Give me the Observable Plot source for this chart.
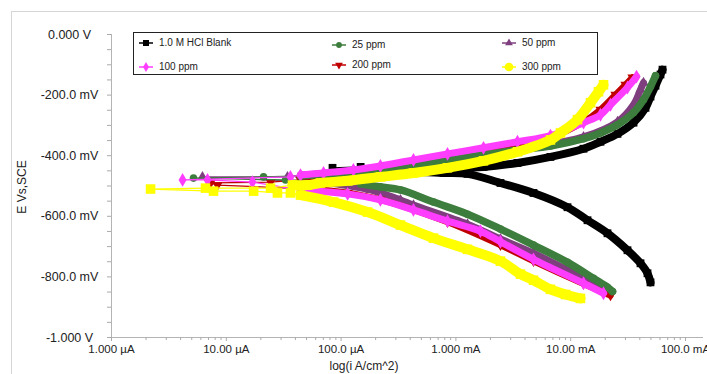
<!DOCTYPE html>
<html><head><meta charset="utf-8">
<script src="https://cdn.jsdelivr.net/npm/d3@7"></script>
<script src="https://cdn.jsdelivr.net/npm/@observablehq/plot@0.6"></script>
<style>
body{margin:0;background:#fff;font-family:"Liberation Sans",Arial,sans-serif;color:#222;}
#wrap{position:relative;width:707px;height:374px;overflow:hidden;background:#fff;}
#frame{position:absolute;left:11px;top:11px;width:720px;height:400px;border:1px solid #d6d6d6;}
#chart{position:absolute;left:0;top:0;}
#legend{position:absolute;left:133px;top:32px;width:463px;height:41px;border:1.5px solid #222;background:#fff;}
.lg{position:absolute;font-size:10px;line-height:12px;white-space:nowrap;display:flex;align-items:center;}
.lg svg{margin-right:5px;}
#ytitle{position:absolute;left:22px;top:187px;transform:translate(-50%,-50%) rotate(-90deg);font-size:12px;white-space:nowrap;}
#xtitle{position:absolute;left:364px;top:366px;transform:translate(-50%,-50%);font-size:12px;white-space:nowrap;}
</style></head><body>
<div id="wrap"><div id="frame"></div><div id="chart"></div><div id="legend"></div>
<div id="ytitle">E Vs,SCE</div><div id="xtitle">log(i A/cm^2)</div></div>
<script>
// ---- axis ticks (current in µA/cm², potential in mV) ----
const xTickValues = [1, 10, 100, 1000, 10000, 100000];
const xTickLabels = ["1.000 µA", "10.00 µA", "100.0 µA", "1.000 mA", "10.00 mA", "100.0 mA"];
const yTickValues = [0, -200, -400, -600, -800, -1000];
const yTickLabels = ["0.000 V", "-200.0 mV", "-400.0 mV", "-600.0 mV", "-800.0 mV", "-1.000 V"];
const yMinorTicks = [-50,-100,-150,-250,-300,-350,-450,-500,-550,-650,-700,-750,-850,-900,-950];

// ---- series meta ----
const seriesNames = ["1.0 M HCl Blank", "25 ppm", "50 ppm", "100 ppm", "200 ppm", "300 ppm"];
const seriesColors = ["#000000", "#3d7d3d", "#7f3f7f", "#ff3dff", "#c00000", "#ffff00"];

// ---- 1.0 M HCl Blank ----
const blankCathI = [49560, 46670, 40550, 31240, 20920, 14010, 9380, 4743, 2446, 1262, 780, 492];
const blankCathE = [-818, -788, -755, -712, -656, -613, -570, -523, -490, -460, -457, -454];
const blankMidI = [84.2, 148];
const blankMidE = [-440, -437];
const blankAnodI = [329, 898, 1740, 3440, 6668, 12930, 18180, 25570, 35240, 44840, 49560, 54800, 60560, 63060];
const blankAnodE = [-440, -440, -437, -424, -404, -377, -354, -328, -291, -242, -205, -169, -132, -116];

// ---- 25 ppm ----
const p25CathI = [23130, 20920, 15800, 9380, 4743, 2446, 1262, 638, 329, 220, 148];
const p25CathE = [-848, -834, -805, -752, -695, -642, -593, -553, -513, -503, -493];
const p25MidI = [32.8, 5.18, 21.1];
const p25MidE = [-480, -474, -470];
const p25AnodI = [44.3, 85.9, 220, 427, 898, 1740, 3440, 6668, 12930, 18180, 25570, 35240, 43070, 49560, 54800];
const p25AnodE = [-467, -460, -447, -434, -414, -397, -381, -368, -344, -325, -298, -258, -215, -172, -136];

// ---- 50 ppm ----
const p50CathI = [19310, 12930, 4743, 2446, 1262, 427, 329, 180, 80.9];
const p50CathE = [-841, -805, -722, -675, -626, -563, -546, -513, -490];
const p50MidI = [6.2, 34.1];
const p50MidE = [-470, -470];
const p50AnodI = [44.3, 220, 898, 3440, 12930, 25570, 35240, 40550, 43070];
const p50AnodE = [-464, -444, -417, -381, -338, -288, -232, -182, -159];

// ---- 100 ppm ----
const p100CathI = [19310, 12930, 4743, 2446, 1638, 845, 427, 220, 114, 44.3];
const p100CathE = [-854, -821, -742, -684, -649, -616, -579, -546, -526, -513];
const p100MidI = [16.9, 6.86, 4.16, 36.2];
const p100MidE = [-487, -480, -480, -470];
const p100AnodI = [44.3, 70.3, 128, 220, 427, 845, 1740, 3440, 6668, 12930, 18180, 22220, 31240, 37430];
const p100AnodE = [-464, -457, -447, -434, -414, -394, -374, -354, -334, -291, -265, -232, -175, -139];

// ---- 200 ppm ----
const p200CathI = [22220, 12930, 4743, 2446, 845, 220, 114, 54.1];
const p200CathE = [-861, -823, -748, -695, -619, -545, -523, -510];
const p200MidI = [8.38, 7.29, 24.3];
const p200MidE = [-497, -490, -487];
const p200AnodI = [44.3, 220, 898, 3440, 6668, 12930, 18180, 24560, 30020, 34540];
const p200AnodE = [-480, -450, -421, -364, -341, -288, -248, -199, -166, -142];

// ---- 300 ppm ----
const p300CathI = [12170, 9010, 6668, 4743, 3654, 2446, 1262, 638, 329, 170, 85.9, 44.3];
const p300CathE = [-871, -858, -841, -811, -791, -748, -709, -672, -629, -586, -553, -530];
const p300MidI = [36.2, 27.9, 17.3, 7.74, 2.19, 6.59, 24.3];
const p300MidE = [-523, -523, -517, -517, -510, -507, -507];
const p300AnodI = [37.7, 51.0, 66.2, 114, 220, 427, 845, 1740, 3440, 6668, 8150, 11460, 14880, 17470, 19310];
const p300AnodE = [-497, -497, -490, -483, -470, -457, -440, -417, -387, -348, -325, -281, -225, -189, -166];

// ---- build tables ----
const pts = (I, E) => I.map((v, k) => ({i: v, e: E[k]}));
const series = [
  {cath: pts(blankCathI, blankCathE), mid: pts(blankMidI, blankMidE), anod: pts(blankAnodI, blankAnodE)},
  {cath: pts(p25CathI, p25CathE), mid: pts(p25MidI, p25MidE), anod: pts(p25AnodI, p25AnodE)},
  {cath: pts(p50CathI, p50CathE), mid: pts(p50MidI, p50MidE), anod: pts(p50AnodI, p50AnodE)},
  {cath: pts(p100CathI, p100CathE), mid: pts(p100MidI, p100MidE), anod: pts(p100AnodI, p100AnodE)},
  {cath: pts(p200CathI, p200CathE), mid: pts(p200MidI, p200MidE), anod: pts(p200AnodI, p200AnodE)},
  {cath: pts(p300CathI, p300CathE), mid: pts(p300MidI, p300MidE), anod: pts(p300AnodI, p300AnodE)}
];
const style = [
  {symbol: "square", r: 4.4, w: 8, rotate: 0},
  {symbol: "circle", r: 3.8, w: 7.5, rotate: 0},
  {symbol: "triangle", r: 3.8, w: 7, rotate: 0},
  {symbol: "diamond", r: 4.2, w: 7, rotate: 0},
  {symbol: "triangle", r: 3.8, w: 6.5, rotate: 180},
  {symbol: "square", r: 5.4, w: 10, rotate: 0}
];
const drawOrder = [0, 2, 4, 1, 3, 5];

const xMinor = [];
for (const d of [1, 10, 100, 1000, 10000]) for (let m = 2; m <= 9; m++) xMinor.push(d * m);

const dataMarks = [];
for (const s of drawOrder) {
  const c = seriesColors[s], st = style[s], sr = series[s];
  const all = [...sr.cath, ...sr.mid, ...sr.anod];
  dataMarks.push(Plot.line(all, {x: "i", y: "e", stroke: c, strokeWidth: 1.3}));
  dataMarks.push(Plot.line(sr.cath, {x: "i", y: "e", stroke: c, strokeWidth: st.w, strokeLinecap: "round", strokeLinejoin: "round", curve: "catmull-rom"}));
  dataMarks.push(Plot.line(sr.anod, {x: "i", y: "e", stroke: c, strokeWidth: st.w, strokeLinecap: "round", strokeLinejoin: "round", curve: "catmull-rom"}));
  dataMarks.push(Plot.dot(all, {x: "i", y: "e", symbol: () => st.symbol, r: st.r, fill: c, stroke: "none", rotate: st.rotate}));
}

const chart = Plot.plot({
  width: 707, height: 374,
  marginLeft: 111, marginRight: 4, marginTop: 34, marginBottom: 37,
  style: {fontFamily: "'Liberation Sans', Arial, sans-serif", background: "transparent", overflow: "visible", color: "#222"},
  x: {type: "log", domain: [1, 143500]},
  y: {domain: [-1000, 0]},
  symbol: {type: "identity"},
  marks: [
    Plot.ruleX([1], {stroke: "#b4b4b4"}),
    Plot.ruleY([-1000], {stroke: "#b4b4b4"}),
    Plot.axisY({ticks: yMinorTicks, tickSize: 4, tickFormat: () => "", stroke: "#aaa", label: null}),
    Plot.axisY({ticks: yTickValues, tickSize: 4, tickFormat: d => yTickLabels[yTickValues.indexOf(d)], stroke: "#aaa", fill: "#222", textAnchor: "middle", tickPadding: 38, fontSize: 12.5, label: null}),
    Plot.axisX({ticks: xMinor, tickSize: 3, tickFormat: () => "", stroke: "#aaa", label: null}),
    Plot.axisX({ticks: xTickValues, tickSize: 4, tickFormat: d => xTickLabels[xTickValues.indexOf(d)], stroke: "#aaa", fill: "#222", tickPadding: 3, fontSize: 11.5, label: null}),
    ...dataMarks
  ]
});
document.getElementById("chart").appendChild(chart);

// ---- legend ----
const legendPos = [[4, 10], [197, 12], [367, 10], [4, 34], [197, 32], [367, 34]];
const d3Sym = [d3.symbolSquare, d3.symbolCircle, d3.symbolTriangle, d3.symbolDiamond, d3.symbolTriangle, d3.symbolCircle];
const legSize = [36, 26, 26, 30, 26, 60];
const legend = document.getElementById("legend");
seriesNames.forEach((name, k) => {
  const el = document.createElement("div");
  el.className = "lg";
  el.style.left = legendPos[k][0] + "px";
  el.style.top = (legendPos[k][1] - 6) + "px";
  const svg = d3.create("svg").attr("width", 16).attr("height", 12);
  svg.append("line").attr("x1", 1).attr("x2", 15).attr("y1", 6).attr("y2", 6).attr("stroke", seriesColors[k]).attr("stroke-width", 1.5);
  svg.append("path").attr("d", d3.symbol(d3Sym[k], legSize[k])()).attr("fill", seriesColors[k])
    .attr("transform", `translate(8,6) rotate(${k === 4 ? 180 : 0})`);
  el.appendChild(svg.node());
  el.appendChild(document.createTextNode(name));
  legend.appendChild(el);
});
</script>
</body></html>
